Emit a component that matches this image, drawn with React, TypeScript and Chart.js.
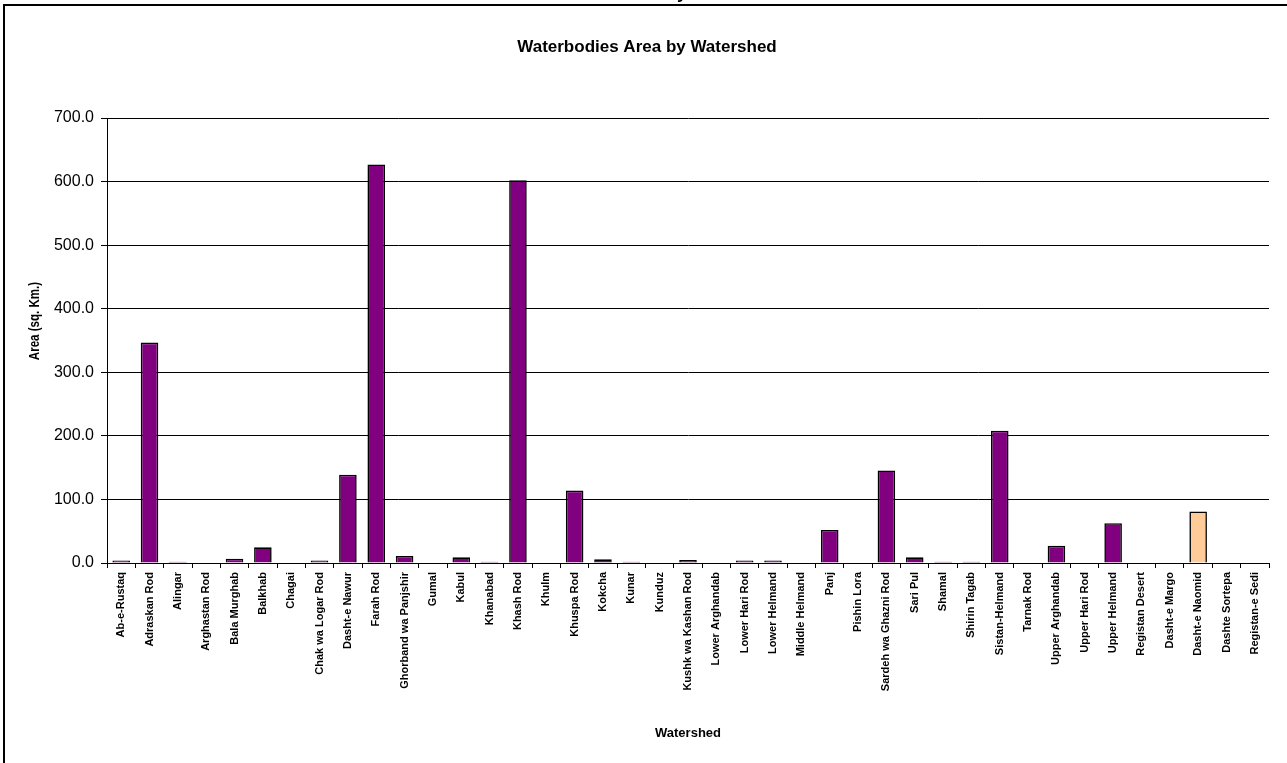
import React, { useEffect, useRef } from "react";
import { Chart, registerables } from "chart.js";

Chart.register(...registerables);

const watersheds: string[] = [
  "Ab-e-Rustaq", "Adraskan Rod", "Alingar", "Arghastan Rod", "Bala Murghab", "Balkhab",
  "Chagai", "Chak wa Logar Rod", "Dasht-e Nawur", "Farah Rod", "Ghorband wa Panjshir",
  "Gumal", "Kabul", "Khanabad", "Khash Rod", "Khulm", "Khuspa Rod", "Kokcha", "Kunar",
  "Kunduz", "Kushk wa Kashan Rod", "Lower Arghandab", "Lower Hari Rod", "Lower Helmand",
  "Middle Helmand", "Panj", "Pishin Lora", "Sardeh wa Ghazni Rod", "Sari Pul", "Shamal",
  "Shirin Tagab", "Sistan-Helmand", "Tarnak Rod", "Upper Arghandab", "Upper Hari Rod",
  "Upper Helmand", "Registan Desert", "Dasht-e Margo", "Dasht-e Naomid", "Dashte Sortepa",
  "Registan-e Sedi",
];

const areaSqKm: number[] = [
  4, 346.7, 1.8, 0, 6.8, 24.7,
  0, 4, 139, 627, 11,
  0, 9, 1.8, 602, 0, 114, 5.8, 1.8,
  0, 4.7, 0, 4, 4,
  0, 52, 0, 145.5, 9, 1.8,
  1.8, 208, 0, 27, 0,
  62.5, 0, 0, 81, 0,
  0,
];

const yTicks: number[] = [0, 100, 200, 300, 400, 500, 600, 700];
const highlightedWatershed = "Dasht-e Naomid";

const chartTitle = "Waterbodies Area by Watershed";
const yTitle = "Area (sq. Km.)";
const xTitle = "Watershed";
const cutOffText = "y";

const FONT = "'Liberation Sans', Arial, Helvetica, sans-serif";

export default function App() {
  const canvasRef = useRef<HTMLCanvasElement | null>(null);

  useEffect(() => {
    const canvas = canvasRef.current;
    if (!canvas) return;

    const framePlugin = {
      id: "frame",
      beforeDraw(chart: any) {
        const ctx = chart.ctx;
        ctx.save();
        ctx.fillStyle = "#ffffff";
        ctx.fillRect(0, 0, chart.width, chart.height);
        ctx.strokeStyle = "#000000";
        ctx.lineWidth = 2;
        ctx.beginPath();
        ctx.moveTo(4, chart.height + 10);
        ctx.lineTo(4, 5);
        ctx.lineTo(chart.width + 10, 5);
        ctx.stroke();
        // partially visible text above the frame
        ctx.fillStyle = "#000000";
        ctx.font = `bold 18px ${FONT}`;
        ctx.textAlign = "center";
        ctx.textBaseline = "alphabetic";
        ctx.fillText(cutOffText, 682, -2.5);
        // chart title
        ctx.font = `bold 17px ${FONT}`;
        ctx.textBaseline = "middle";
        ctx.fillText(chartTitle, 647, 47);
        // y axis title
        ctx.translate(35, 321);
        ctx.rotate(-Math.PI / 2);
        ctx.scale(0.77, 1);
        ctx.font = `bold 15px ${FONT}`;
        ctx.fillText(yTitle, 0, 0);
        ctx.restore();
      },
    };

    const chart = new Chart(canvas, {
      type: "bar",
      data: {
        labels: watersheds,
        datasets: [
          {
            data: areaSqKm,
            backgroundColor: watersheds.map((w) => (w === highlightedWatershed ? "#FFCC99" : "#800080")),
            borderColor: "#000000",
            borderWidth: 1.6,
            borderSkipped: "start",
            barPercentage: 0.62,
            categoryPercentage: 1,
          },
        ],
      },
      options: {
        responsive: false,
        animation: false,
        devicePixelRatio: 1,
        layout: { padding: { top: 118, right: 18, bottom: 0, left: 0 } },
        plugins: {
          legend: { display: false },
          title: { display: false },
          tooltip: { enabled: false },
        },
        scales: {
          x: {
            offset: true,
            grid: {
              offset: true,
              drawOnChartArea: false,
              drawTicks: true,
              tickLength: 5,
              color: "#000000",
            },
            border: { display: true, color: "#000000", width: 1 },
            ticks: {
              autoSkip: false,
              maxRotation: 90,
              minRotation: 90,
              padding: 4,
              color: "#000000",
              font: { family: FONT, size: 11, weight: "bold" },
            },
            title: {
              display: true,
              text: xTitle,
              color: "#000000",
              font: { family: FONT, size: 13, weight: "bold" },
              padding: { top: 0, bottom: 22 },
            },
            afterFit(scale: any) {
              scale.height = 200;
            },
          },
          y: {
            min: 0,
            max: 700,
            afterBuildTicks(scale: any) {
              scale.ticks = yTicks.map((v) => ({ value: v }));
            },
            grid: {
              color: "#000000",
              lineWidth: 1,
              drawTicks: true,
              tickLength: 6,
            },
            border: { display: true, color: "#000000", width: 1 },
            ticks: {
              padding: 7,
              color: "#000000",
              font: { family: FONT, size: 16 },
              callback: (v: any) => Number(v).toFixed(1),
            },
            title: { display: false },
            afterFit(scale: any) {
              scale.width = 107;
            },
          },
        },
      },
      plugins: [framePlugin],
    });

    return () => chart.destroy();
  }, []);

  return (
    <div style={{ position: "absolute", left: 0, top: 0, width: 1287, height: 763, background: "#fff" }}>
      <canvas ref={canvasRef} width={1287} height={763} style={{ display: "block" }} />
    </div>
  );
}
